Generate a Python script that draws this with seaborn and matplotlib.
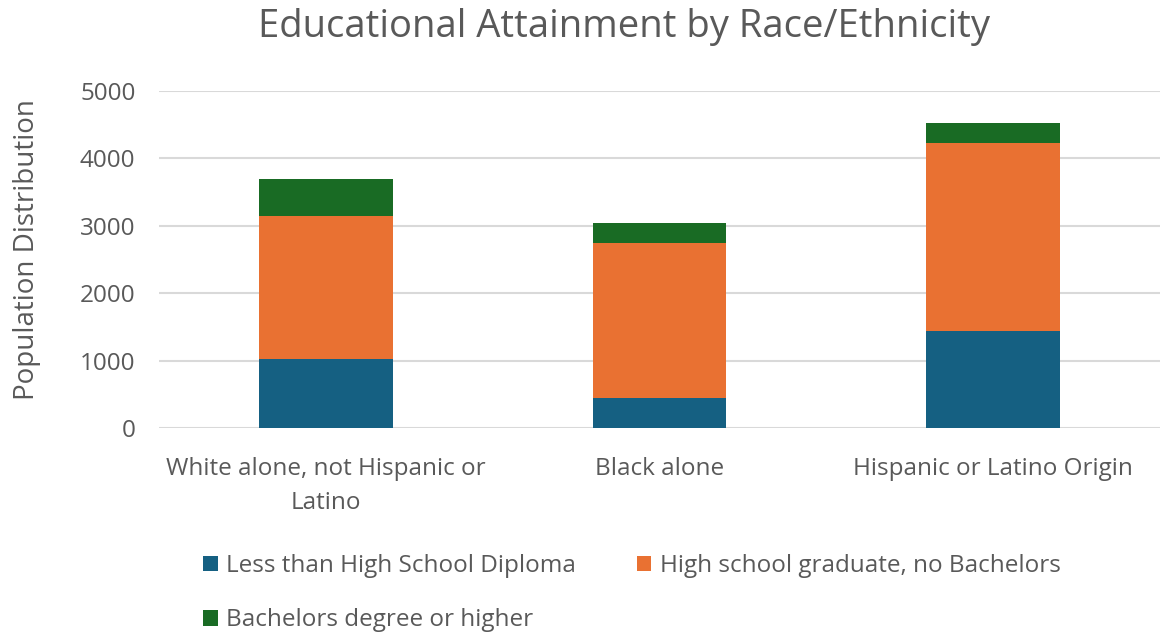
import matplotlib
matplotlib.use("Agg")
import matplotlib.pyplot as plt
import seaborn as sns
import pandas as pd
import numpy as np
from matplotlib.patches import Patch

categories = ["White alone, not Hispanic or\nLatino", "Black alone", "Hispanic or Latino Origin"]
series_names = ["Less than High School Diploma", "High school graduate, no Bachelors", "Bachelors degree or higher"]
less_than_hs = [1030, 450, 1440]
hs_grad = [2120, 2295, 2795]
bachelors = [545, 295, 290]
colors = ["#156082", "#E97132", "#196B24"]
yticks = [0, 1000, 2000, 3000, 4000, 5000]

sns.set_style("white")
plt.rcParams["font.family"] = ["Open Sans", "DejaVu Sans"]
text_color = "#595959"

fig = plt.figure(figsize=(11.65, 6.34), dpi=100)
ax = fig.add_axes([159/1165, 1 - 428/634, (1160-159)/1165, (428-91)/634])

stack = [np.array(less_than_hs),
         np.array(less_than_hs) + np.array(hs_grad),
         np.array(less_than_hs) + np.array(hs_grad) + np.array(bachelors)]

for i in [2, 1, 0]:
    df = pd.DataFrame({"cat": categories, "val": stack[i]})
    sns.barplot(data=df, x="cat", y="val", color=colors[i], width=0.4,
                saturation=1, ax=ax, zorder=3, edgecolor="none", linewidth=0)

ax.set_ylim(0, 5000)
ax.set_yticks(yticks)
ax.set_yticklabels([str(t) for t in yticks])
ax.yaxis.grid(True, color="#D9D9D9", linewidth=1.5, zorder=0)
ax.set_axisbelow(True)
for s in ax.spines.values():
    s.set_visible(False)
ax.tick_params(axis="both", length=0, colors=text_color)
ax.tick_params(axis="y", pad=17, labelsize=17.5)
ax.tick_params(axis="x", pad=21, labelsize=17.5)
for lbl in ax.get_xticklabels():
    lbl.set_linespacing(1.55)
ax.set_xlabel("")
ax.set_ylabel("Population Distribution", color=text_color, fontsize=20)
ax.yaxis.set_label_coords(-0.118, 0.53)

fig.suptitle("Educational Attainment by Race/Ethnicity", color=text_color,
             fontsize=27.5, y=0.988, x=0.536, va="top")

order = [0, 2, 1]
handles = [Patch(facecolor=colors[i], edgecolor="none") for i in order]
labels = [series_names[i] for i in order]
leg = fig.legend(handles, labels, loc="upper left", ncol=2,
                 bbox_to_anchor=(203/1165, 1 - 554/634), frameon=False,
                 borderpad=0, borderaxespad=0,
                 fontsize=17.5, labelcolor=text_color,
                 handlelength=0.6, handleheight=0.6, handletextpad=0.35,
                 columnspacing=2.5, labelspacing=1.25)

fig.savefig("out.png", dpi=100, facecolor="white")
